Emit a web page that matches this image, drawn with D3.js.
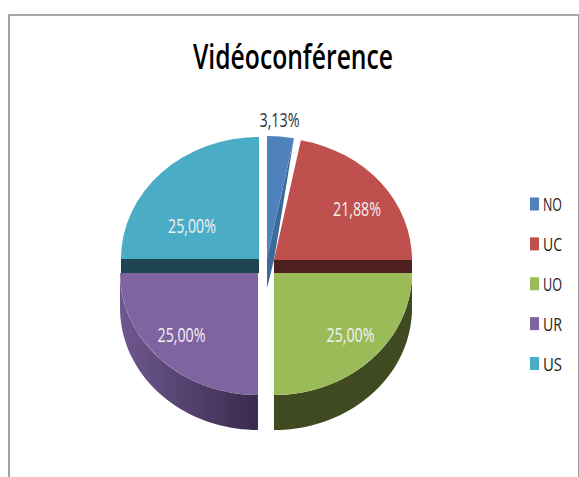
<!DOCTYPE html>
<meta charset="utf-8">
<style>
html, body { margin: 0; padding: 0; background: #fff; }
svg { display: block; }
text { font-family: "Open Sans", "Noto Sans", sans-serif; }
</style>
<body>
<svg width="579" height="477"></svg>
<script src="https://cdnjs.cloudflare.com/ajax/libs/d3/7.8.5/d3.min.js"></script>
<script>

var title = "Vidéoconférence";
var categories = ["NO", "UC", "UO", "UR", "US"];
var values = [3.13, 21.88, 25, 25, 25];
var labels = ["3,13%", "21,88%", "25,00%", "25,00%", "25,00%"];
var colors = ["#4f81bd", "#c0504d", "#9bbb59", "#8064a2", "#4bacc6"];

var svg = d3.select("svg");

// chart frame, open at the bottom and running off the right
svg.append("path")
  .attr("d", "M9,477V15H579")
  .attr("fill", "none")
  .attr("stroke", "#8a8a8a")
  .attr("stroke-width", 1.6);
svg.append("line")
  .attr("x1", 578.5).attr("x2", 578.5).attr("y1", 15).attr("y2", 477)
  .attr("stroke", "#a0a0a0");

svg.append("text")
  .attr("x", 293).attr("y", 69)
  .attr("text-anchor", "middle")
  .attr("font-size", 34)
  .attr("font-weight", 600)
  .attr("textLength", 200)
  .attr("lengthAdjust", "spacingAndGlyphs")
  .attr("fill", "#000")
  .text(title);

var rx = 138, ry = 122, depth = 35;
var pie = d3.pie().sort(null).value(function(d) { return d; });
var slices = pie(values);
var arc = d3.arc().innerRadius(0).outerRadius(1);

// screen position of a point on a slice rim
function rim(a, cx, cy) {
  return [cx + rx * Math.sin(a), cy - ry * Math.cos(a)];
}

// faces: [cx, cy] per slice (the chart splits into an upper and a lower half)
var centers = [[267, 258], [274, 260], [274, 273], [258, 273], [259, 259]];

var defs = svg.append("defs");
var grad = defs.append("linearGradient").attr("id", "urWall");
grad.append("stop").attr("offset", "0%").attr("stop-color", "#6f5890");
grad.append("stop").attr("offset", "100%").attr("stop-color", "#3a2a4c");

var g = svg.append("g");

// outer walls of the two lower slices
[[2, "#3f4a20"], [3, "url(#urWall)"]].forEach(function(w) {
  var d = slices[w[0]], c = centers[w[0]], pts = [];
  d3.range(0, 41).forEach(function(i) {
    pts.push(rim(d.startAngle + (d.endAngle - d.startAngle) * i / 40, c[0], c[1]));
  });
  var low = pts.slice().reverse().map(function(p) { return [p[0], p[1] + depth]; });
  g.append("path")
    .attr("d", d3.line()(pts.concat(low)) + "Z")
    .attr("fill", w[1]);
});

// dark cut faces between upper and lower halves
[[1, "#4d1f1e"], [4, "#1f4550"]].forEach(function(w) {
  var c = centers[w[0]];
  var xs = d3.extent([c[0], c[0] + rx * Math.sin(w[0] == 1 ? Math.PI / 2 : -Math.PI / 2)]);
  g.append("rect")
    .attr("x", xs[0]).attr("y", c[1])
    .attr("width", xs[1] - xs[0]).attr("height", 273 - c[1])
    .attr("fill", w[1]);
});

// wedge side of the pulled out slice, reaching over to the red slice
var tip = rim(slices[0].endAngle, centers[0][0], centers[0][1]);
g.append("path")
  .attr("d", d3.line()([tip, centers[1], [centers[0][0], 288], centers[0]]) + "Z")
  .attr("fill", "#3d6a9a");

// top faces
g.selectAll("path.face").data(slices).enter().append("path")
  .attr("class", "face")
  .attr("transform", function(d, i) {
    return "translate(" + centers[i] + ") scale(" + rx + "," + ry + ")";
  })
  .attr("d", arc)
  .attr("fill", function(d, i) { return colors[i]; });

// data labels
var labelPos = [[279.5, 120], [357, 209], [350.5, 335], [181.5, 335], [192, 226]];
svg.selectAll("text.val").data(labels).enter().append("text")
  .attr("class", "val")
  .attr("x", function(d, i) { return labelPos[i][0]; })
  .attr("y", function(d, i) { return labelPos[i][1] + 7; })
  .attr("text-anchor", "middle")
  .attr("font-size", 20)
  .attr("textLength", function(d) { return d.length * 8; })
  .attr("lengthAdjust", "spacingAndGlyphs")
  .attr("fill", function(d, i) { return i == 0 ? "#333" : "#f2f2f2"; })
  .text(function(d) { return d; });

// legend
var ly = d3.scalePoint().domain(categories).range([204, 363.5]);
var leg = svg.selectAll("g.leg").data(categories).enter().append("g")
  .attr("class", "leg")
  .attr("transform", function(d) { return "translate(530," + ly(d) + ")"; });
leg.append("rect")
  .attr("y", -6.5).attr("width", 9).attr("height", 13)
  .attr("fill", function(d, i) { return colors[i]; });
leg.append("text")
  .attr("x", 13).attr("y", 7)
  .attr("font-size", 18)
  .attr("textLength", 19)
  .attr("lengthAdjust", "spacingAndGlyphs")
  .attr("fill", "#222")
  .text(function(d) { return d; });

</script>
</body>
